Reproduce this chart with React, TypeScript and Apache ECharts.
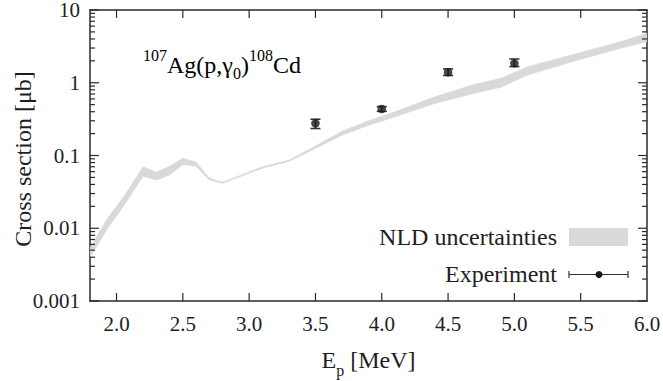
import React, { useEffect, useRef } from "react";
import * as echarts from "echarts";

// NLD uncertainty band: energy [MeV], lower and upper cross section [μb]
const bandE = [1.8, 1.93, 2.06, 2.2, 2.3, 2.4, 2.5, 2.6, 2.7, 2.8, 3.1, 3.3, 3.5, 3.7, 3.9, 4.1, 4.4, 4.7, 4.9, 5.1, 5.5, 5.8, 6.0];
const bandLow = [0.004, 0.0098, 0.021, 0.052, 0.046, 0.054, 0.075, 0.071, 0.046, 0.0415, 0.067, 0.083, 0.125, 0.19, 0.26, 0.34, 0.52, 0.72, 0.87, 1.28, 2.1, 2.98, 3.66];
const bandHigh = [0.0054, 0.0135, 0.028, 0.07, 0.059, 0.071, 0.092, 0.081, 0.049, 0.043, 0.07, 0.086, 0.135, 0.215, 0.3, 0.4, 0.64, 0.95, 1.15, 1.66, 2.6, 3.66, 4.79];

// Experiment
const expE = [3.5, 4.0, 4.5, 5.0];
const expVal = [0.277, 0.435, 1.39, 1.85];
const expLow = [0.235, 0.405, 1.26, 1.67];
const expHigh = [0.315, 0.47, 1.55, 2.12];

// Axes
const xMin = 1.8;
const xMax = 6.0;
const xTicks = [2.0, 2.5, 3.0, 3.5, 4.0, 4.5, 5.0, 5.5, 6.0];
const yMin = 0.001;
const yMax = 10;
const yMajorTicks = [0.001, 0.01, 0.1, 1, 10];
const yTickLabels: Record<string, string> = { "0.001": "0.001", "0.01": "0.01", "0.1": "0.1", "1": "1", "10": "10" };
const yMinorTicks = [
  0.002, 0.003, 0.004, 0.005, 0.006, 0.007, 0.008, 0.009,
  0.02, 0.03, 0.04, 0.05, 0.06, 0.07, 0.08, 0.09,
  0.2, 0.3, 0.4, 0.5, 0.6, 0.7, 0.8, 0.9,
  2, 3, 4, 5, 6, 7, 8, 9,
];

const FONT = "Liberation Serif";
const INK = "#1e1e1e";
const AXIS = "#2a2a2a";
const TICK = "#2a2a2a";
const BAND = "#d9d9d9";

export default function App() {
  const ref = useRef<HTMLDivElement>(null);
  useEffect(() => {
    if (!ref.current) return;
    const chart = echarts.init(ref.current, undefined, { renderer: "svg" });

    const bandData = bandE.map((e, i) => [e, bandLow[i], bandHigh[i]]);
    const errData = expE.map((e, i) => [e, expVal[i], expLow[i], expHigh[i]]);

    const xTickLine = (top: boolean) => ({
      type: "custom",
      xAxisIndex: 0,
      yAxisIndex: 0,
      clip: false,
      silent: true,
      z: 10,
      data: xTicks.slice(0, -1).map((v) => [v, top ? yMax : yMin]),
      renderItem: (params: any, api: any) => {
        const p = api.coord([api.value(0), api.value(1)]);
        const dy = top ? 8 : -8;
        return { type: "line", shape: { x1: p[0], y1: p[1], x2: p[0], y2: p[1] + dy }, style: { stroke: TICK, lineWidth: 1.2 } };
      },
    });

    const yTickLine = (values: number[], len: number) => ({
      type: "custom",
      xAxisIndex: 0,
      yAxisIndex: 0,
      clip: false,
      silent: true,
      z: 10,
      data: values.map((v) => [xMin, v]),
      renderItem: (params: any, api: any) => {
        const v = api.value(1);
        const l = api.coord([xMin, v]);
        const r = api.coord([xMax, v]);
        const st = { stroke: TICK, lineWidth: 1.2 };
        return {
          type: "group",
          children: [
            { type: "line", shape: { x1: l[0], y1: l[1], x2: l[0] + len, y2: l[1] }, style: st },
            { type: "line", shape: { x1: r[0], y1: r[1], x2: r[0] - len, y2: r[1] }, style: st },
          ],
        };
      },
    });

    const option: any = {
      animation: false,
      backgroundColor: "#ffffff",
      textStyle: { fontFamily: FONT },
      grid: { left: 90, right: 16, top: 10, bottom: 80, containLabel: false, outerBoundsMode: "none" },
      xAxis: [
        {
          type: "value",
          min: xMin,
          max: xMax,
          position: "bottom",
          name: "{m|E}{s|p}{m| [MeV]}",
          nameLocation: "middle",
          nameGap: 45,
          nameTextStyle: {
            fontFamily: FONT,
            rich: {
              m: { fontFamily: FONT, fontSize: 24, color: INK, lineHeight: 26, verticalAlign: "bottom" },
              s: { fontFamily: FONT, fontSize: 16, color: INK, lineHeight: 18, verticalAlign: "bottom", padding: [0, 0, -6, 0] },
            },
          },
          axisLine: { show: true, onZero: false, lineStyle: { color: AXIS, width: 1.5 } },
          axisTick: { show: false },
          axisLabel: {
            show: true,
            customValues: xTicks,
            formatter: (v: number) => v.toFixed(1),
            fontFamily: FONT,
            fontSize: 21,
            color: INK,
            margin: 12,
          },
          splitLine: { show: false },
        },
        {
          type: "value",
          min: xMin,
          max: xMax,
          position: "top",
          axisLine: { show: true, onZero: false, lineStyle: { color: AXIS, width: 1.5 } },
          axisTick: { show: false },
          axisLabel: { show: false },
          splitLine: { show: false },
        },
      ],
      yAxis: [
        {
          type: "log",
          logBase: 10,
          min: yMin,
          max: yMax,
          position: "left",
          axisLine: { show: true, onZero: false, lineStyle: { color: AXIS, width: 1.5 } },
          axisTick: { show: false },
          axisLabel: {
            fontFamily: FONT,
            fontSize: 21,
            lineHeight: 18,
            color: INK,
            margin: 10,
            formatter: (v: number) => yTickLabels[String(+v.toPrecision(3))] ?? String(v),
          },
          splitLine: { show: false },
        },
        {
          type: "log",
          logBase: 10,
          min: yMin,
          max: yMax,
          position: "right",
          axisLine: { show: true, onZero: false, lineStyle: { color: AXIS, width: 1.5 } },
          axisTick: { show: false },
          axisLabel: { show: false },
          splitLine: { show: false },
        },
      ],
      series: [
        {
          type: "custom",
          name: "NLD uncertainties",
          xAxisIndex: 0,
          yAxisIndex: 0,
          clip: true,
          data: bandData,
          renderItem: (params: any, api: any) => {
            if (params.dataIndex !== 0) return null;
            const upper = bandData.map((d) => api.coord([d[0], d[2]]));
            const lower = bandData.map((d) => api.coord([d[0], d[1]])).reverse();
            return {
              type: "polygon",
              shape: { points: upper.concat(lower) },
              style: { fill: BAND, stroke: BAND, lineWidth: 0.6 },
            };
          },
        },
        {
          type: "custom",
          name: "errorbars",
          xAxisIndex: 0,
          yAxisIndex: 0,
          data: errData,
          renderItem: (params: any, api: any) => {
            const x = api.value(0);
            const lo = api.coord([x, api.value(2)]);
            const hi = api.coord([x, api.value(3)]);
            const hw = 5;
            const st = { stroke: "#333", lineWidth: 1.6 };
            return {
              type: "group",
              children: [
                { type: "line", shape: { x1: lo[0], y1: lo[1], x2: hi[0], y2: hi[1] }, style: st },
                { type: "line", shape: { x1: lo[0] - hw, y1: lo[1], x2: lo[0] + hw, y2: lo[1] }, style: st },
                { type: "line", shape: { x1: hi[0] - hw, y1: hi[1], x2: hi[0] + hw, y2: hi[1] }, style: st },
              ],
            };
          },
        },
        {
          type: "scatter",
          name: "Experiment",
          xAxisIndex: 0,
          yAxisIndex: 0,
          symbol: "circle",
          symbolSize: 8.5,
          itemStyle: { color: "#1a1a1a" },
          data: expE.map((e, i) => [e, expVal[i]]),
        },
        yTickLine(yMinorTicks, 5),
        yTickLine(yMajorTicks, 9),
        xTickLine(false),
        xTickLine(true),
      ],
      graphic: [
        {
          type: "text",
          x: 23,
          y: 159,
          rotation: Math.PI / 2,
          style: {
            text: "Cross section [μb]",
            fontFamily: FONT,
            fontSize: 24,
            fill: INK,
            align: "center",
            verticalAlign: "middle",
          },
        },
        {
          type: "text",
          left: 143,
          top: 47,
          style: {
            text: "{s|107}{m|Ag(p,γ}{d|0}{m|)}{s|108}{m|Cd}",
            rich: {
              m: { fontFamily: FONT, fontSize: 24, color: INK, lineHeight: 30, verticalAlign: "bottom" },
              s: { fontFamily: FONT, fontSize: 16, color: INK, lineHeight: 30, verticalAlign: "top" },
              d: { fontFamily: FONT, fontSize: 16, color: INK, lineHeight: 22, verticalAlign: "bottom", padding: [0, 0, -4, 0] },
            },
          },
        },
        {
          type: "text",
          right: 663 - 557,
          top: 225,
          style: { text: "NLD uncertainties", fontFamily: FONT, fontSize: 24, fill: INK },
        },
        {
          type: "rect",
          shape: { x: 569, y: 228, width: 59, height: 18 },
          style: { fill: BAND },
        },
        {
          type: "text",
          right: 663 - 557,
          top: 262,
          style: { text: "Experiment", fontFamily: FONT, fontSize: 24, fill: INK },
        },
        { type: "line", shape: { x1: 569, y1: 274.5, x2: 628, y2: 274.5 }, style: { stroke: "#333", lineWidth: 1.2 } },
        { type: "line", shape: { x1: 569, y1: 271, x2: 569, y2: 278 }, style: { stroke: "#333", lineWidth: 1.2 } },
        { type: "line", shape: { x1: 628, y1: 271, x2: 628, y2: 278 }, style: { stroke: "#333", lineWidth: 1.2 } },
        { type: "circle", shape: { cx: 599, cy: 274.5, r: 3.5 }, style: { fill: "#1a1a1a" } },
      ],
    };

    chart.setOption(option);
    return () => chart.dispose();
  }, []);

  return (
    <div
      ref={ref}
      style={{ position: "fixed", left: 0, top: 0, width: 663, height: 381, background: "#fff" }}
    />
  );
}
